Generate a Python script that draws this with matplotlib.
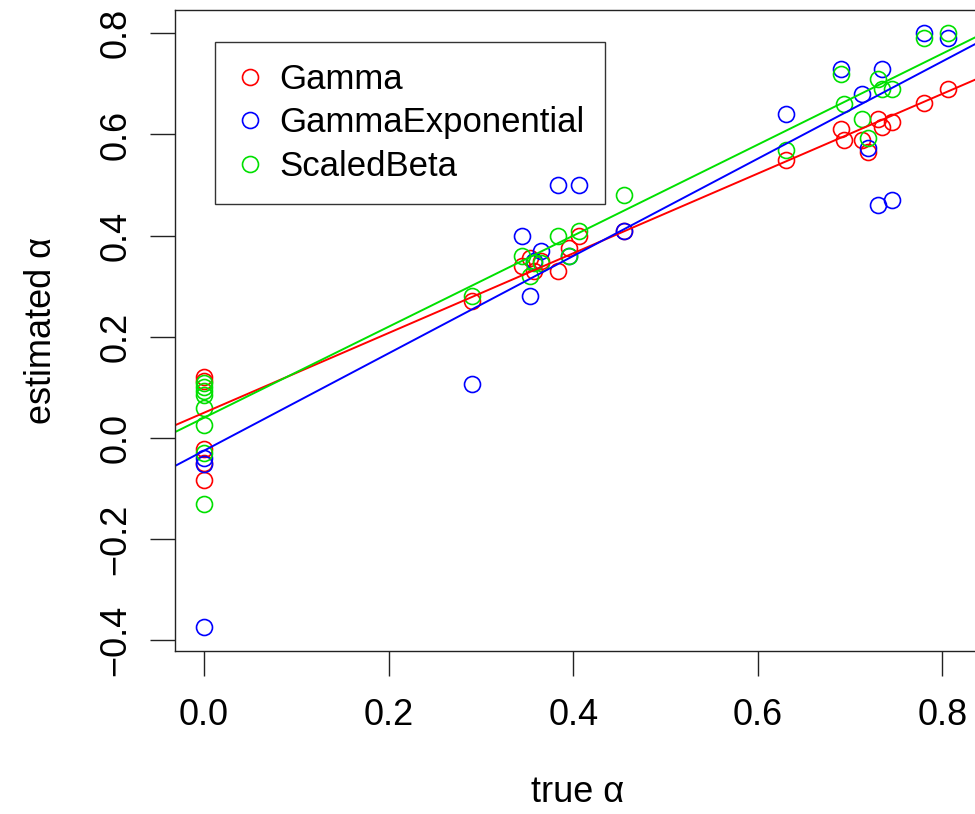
import matplotlib
matplotlib.use("Agg")
import matplotlib.pyplot as plt

plt.rcParams['font.family'] = ['Liberation Sans', 'DejaVu Sans']

# Gamma
gamma_x = [0, 0, 0, 0, 0, 0.29, 0.345, 0.353, 0.358, 0.365, 0.384, 0.395, 0.406, 0.455,
           0.63, 0.69, 0.693, 0.713, 0.719, 0.730, 0.735, 0.745, 0.780, 0.806]
gamma_y = [0.121, 0.113, -0.022, -0.05, -0.083, 0.27, 0.34, 0.355, 0.33, 0.35, 0.33, 0.375, 0.40, 0.41,
           0.55, 0.61, 0.59, 0.59, 0.565, 0.63, 0.615, 0.625, 0.662, 0.69]

# GammaExponential
gexp_x = [0, 0, 0, 0.29, 0.345, 0.353, 0.358, 0.365, 0.384, 0.395, 0.406, 0.455,
          0.63, 0.69, 0.713, 0.719, 0.730, 0.735, 0.745, 0.780, 0.806]
gexp_y = [-0.04, -0.052, -0.374, 0.107, 0.40, 0.28, 0.35, 0.37, 0.50, 0.36, 0.50, 0.41,
          0.64, 0.73, 0.68, 0.573, 0.46, 0.73, 0.47, 0.80, 0.79]

# ScaledBeta
sbeta_x = [0, 0, 0, 0, 0, 0, 0, 0, 0.29, 0.345, 0.353, 0.358, 0.365, 0.384, 0.395, 0.406, 0.455,
           0.63, 0.69, 0.693, 0.713, 0.719, 0.730, 0.735, 0.745, 0.780, 0.806]
sbeta_y = [0.108, 0.100, 0.092, 0.085, 0.059, 0.026, -0.03, -0.13, 0.28, 0.36, 0.32, 0.345, 0.345, 0.40, 0.36, 0.41, 0.48,
           0.57, 0.72, 0.66, 0.63, 0.593, 0.71, 0.69, 0.69, 0.79, 0.80]

labels = ['Gamma', 'GammaExponential', 'ScaledBeta']
colors = ['#FF0000', '#0000FF', '#00E000']
# fitted lines: intercept, slope
fit_intercept = [0.050, -0.025, 0.040]
fit_slope = [0.788, 0.962, 0.900]

fig = plt.figure(figsize=(9.75, 8.14), dpi=100)
ax = fig.add_axes([0.1795, 0.2002, 0.8267, 0.7875])

series = [(gamma_x, gamma_y), (gexp_x, gexp_y), (sbeta_x, sbeta_y)]
for (xs, ys), lab, col in zip(series, labels, colors):
    ax.plot(xs, ys, 'o', mfc='none', mec=col, mew=1.2, ms=11.5, label=lab)

for a, b, col in zip(fit_intercept, fit_slope, colors):
    ax.axline((0, a), slope=b, color=col, lw=1.4)

ax.set_xlim(-0.0314, 0.8418)
ax.set_ylim(-0.421, 0.846)
ax.set_xticks([0.0, 0.2, 0.4, 0.6, 0.8])
ax.set_yticks([-0.4, -0.2, 0.0, 0.2, 0.4, 0.6, 0.8])
ax.set_xticklabels(['0.0', '0.2', '0.4', '0.6', '0.8'])
ax.set_yticklabels(['\u22120.4', '\u22120.2', '0.0', '0.2', '0.4', '0.6', '0.8'],
                   rotation=90, va='center')
ax.tick_params(labelsize=26, length=18, width=1, color='#222222')
ax.tick_params(axis='x', pad=16)
ax.tick_params(axis='y', pad=12)
for s in ax.spines.values():
    s.set_linewidth(1)
    s.set_color('#222222')

ax.set_xlabel('true \u03b1', fontsize=26, labelpad=30)
ax.set_ylabel('estimated \u03b1', fontsize=26, labelpad=28)

leg = ax.legend(loc='upper left', bbox_to_anchor=(0.0496, 0.95), borderaxespad=0,
                fontsize=25, frameon=True, fancybox=False,
                edgecolor='black', handletextpad=0.45, handlelength=0.8,
                labelspacing=0.3, borderpad=0.6, numpoints=1)
leg.get_frame().set_linewidth(1)
leg.get_frame().set_facecolor('none')

fig.savefig('out.png', dpi=100)
